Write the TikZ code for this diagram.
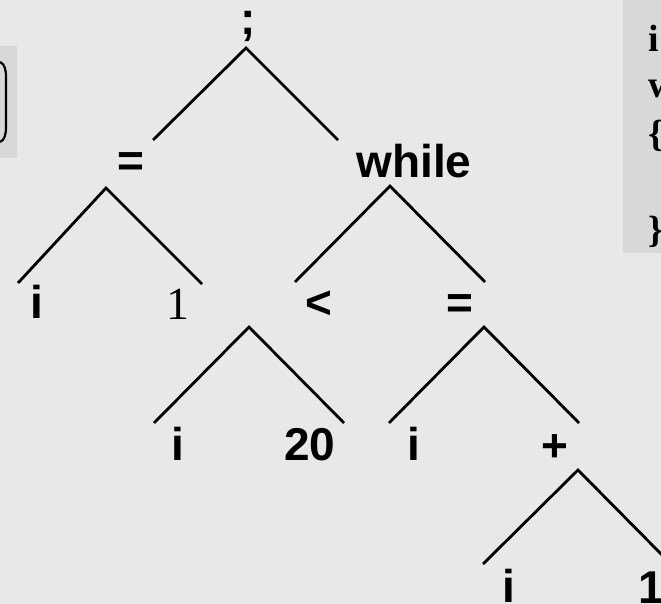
\documentclass[tikz,border=0pt]{standalone}
\usepackage{fontspec}
\setmainfont{Liberation Sans}
\newfontfamily\tmsfont{Liberation Serif}
\definecolor{bg}{RGB}{232,232,232}
\definecolor{boxgray}{RGB}{216,216,216}
\begin{document}
\begin{tikzpicture}[x=1pt,y=-1pt,
  lbl/.style={anchor=base, font=\fontsize{46}{46}\selectfont\bfseries, inner sep=0pt},
  codetxt/.style={anchor=base west, font=\fontsize{38}{38}\selectfont\tmsfont\bfseries, inner sep=0pt},
  edge/.style={line width=2.8pt}]
\useasboundingbox (0,0) rectangle (661,604);
\clip (0,0) rectangle (661,604);
\fill[bg] (0,0) rectangle (661,604);

% side boxes (partly visible)
\fill[boxgray] (0,46) rectangle (17,158);
\draw[line width=2.2pt] (0,62) .. controls (5,64) and (6,70) .. (6,78) -- (6,126) .. controls (6,134) and (5,140) .. (0,142);
\fill[boxgray] (623,0) rectangle (661,253);
\node[codetxt] (c1) at (648,52) {i};
\node[codetxt] (c2) at (648,98) {w};
\node[codetxt] (c3) at (648,147) {\{};
\node[codetxt] (c4) at (648,242) {\}};

% tree labels
\node[lbl] (semi) at (248,35) {;};
\node[lbl] (asgA) at (131,177) {=};
\node[lbl] (wh) at (414,178) {while};
\node[lbl] (iA) at (37,318) {i};
\node[lbl,font=\fontsize{46}{46}\selectfont\tmsfont] (oneA) at (178,319) {1};
\node[lbl] (lt) at (319,318) {<};
\node[lbl] (asgB) at (460,318) {=};
\node[lbl] (iB) at (178,460) {i};
\node[lbl] (twenty) at (310,460) {20};
\node[lbl] (iC) at (414,460) {i};
\node[lbl] (plus) at (555,461) {+};
\node[lbl] (iD) at (509,602) {i};
\node[lbl] (oneB) at (651,603) {1};

% apex and end coordinates
\coordinate (ap0) at (246,48);
\coordinate (ap1) at (106,188);
\coordinate (ap2) at (390,186);
\coordinate (ap3) at (249,327);
\coordinate (ap4) at (484,327);
\coordinate (ap5) at (578,470);
\coordinate (e0l) at (153,140);
\coordinate (e0r) at (338,140);
\coordinate (e1l) at (18,283);
\coordinate (e1r) at (202,284);
\coordinate (e2l) at (295,282);
\coordinate (e2r) at (485,282);
\coordinate (e3l) at (154,423);
\coordinate (e3r) at (344,423);
\coordinate (e4l) at (389,423);
\coordinate (e4r) at (579,423);
\coordinate (e5l) at (483,564);
\coordinate (e5r) at (671,564);

\draw[edge] (e0l) -- (ap0) -- (e0r);
\draw[edge] (e1l) -- (ap1) -- (e1r);
\draw[edge] (e2l) -- (ap2) -- (e2r);
\draw[edge] (e3l) -- (ap3) -- (e3r);
\draw[edge] (e4l) -- (ap4) -- (e4r);
\draw[edge] (e5l) -- (ap5) -- (e5r);
\end{tikzpicture}
\end{document}
